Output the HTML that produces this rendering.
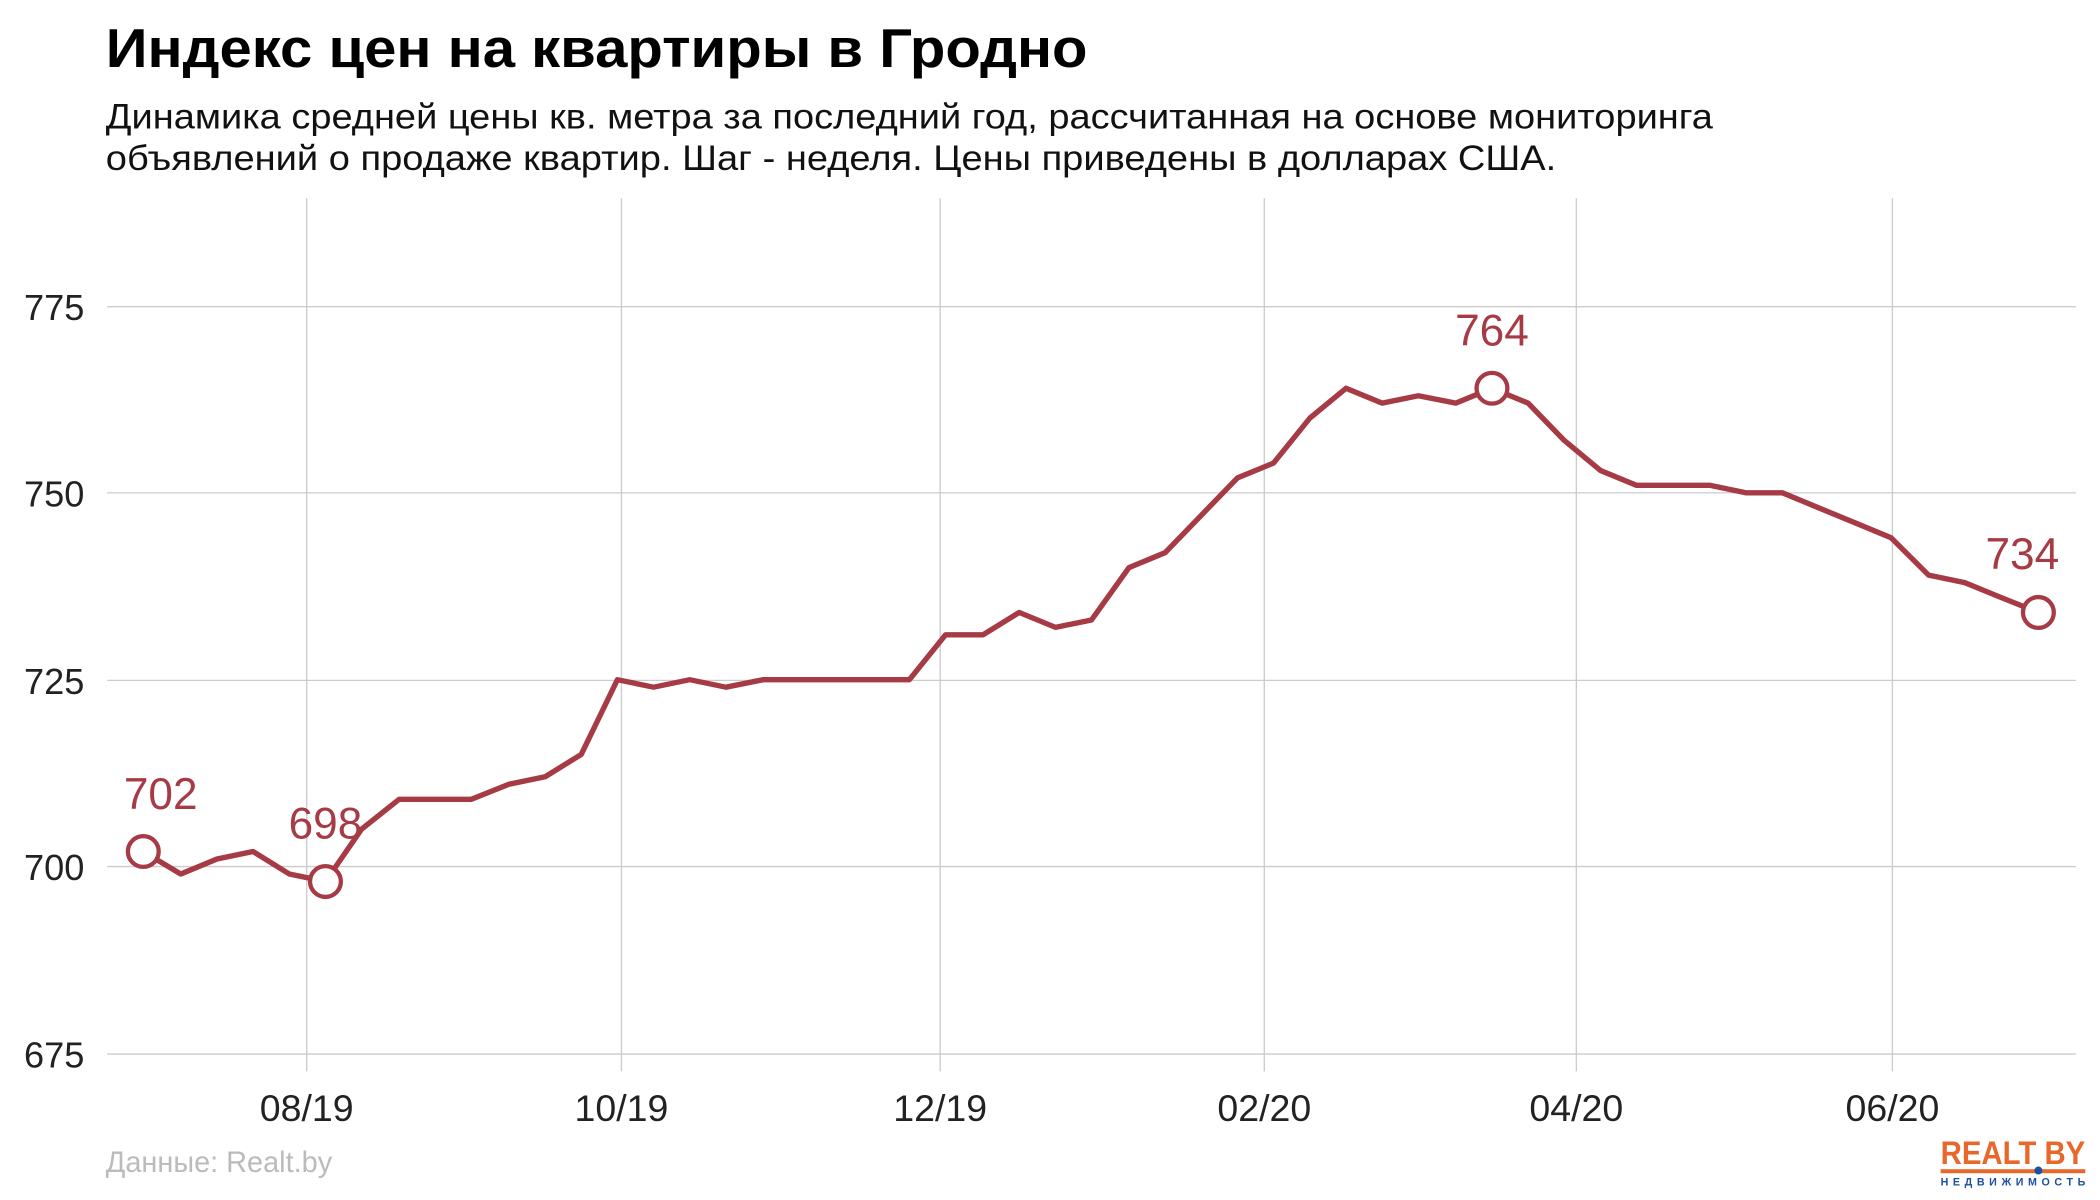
<!DOCTYPE html>
<html><head><meta charset="utf-8"><style>
html,body{margin:0;padding:0;background:#fff;}
svg{display:block;}
text{font-family:"Liberation Sans",sans-serif;}
</style></head><body>
<svg width="2100" height="1200" viewBox="0 0 1568 896" preserveAspectRatio="none" xmlns="http://www.w3.org/2000/svg">
<rect width="1568" height="896" fill="#fff"/>
<text x="79" y="50" font-size="41" font-weight="bold" fill="#000" textLength="733" lengthAdjust="spacingAndGlyphs">Индекс цен на квартиры в Гродно</text>
<text x="79" y="96" font-size="26" fill="#111" textLength="1200" lengthAdjust="spacingAndGlyphs">Динамика средней цены кв. метра за последний год, рассчитанная на основе мониторинга</text>
<text x="79" y="127" font-size="26" fill="#111" textLength="1083" lengthAdjust="spacingAndGlyphs">объявлений о продаже квартир. Шаг - неделя. Цены приведены в долларах США.</text>
<g stroke="#cccccc" stroke-width="1">
<line x1="80" x2="1550" y1="229" y2="229"/>
<line x1="80" x2="1550" y1="368" y2="368"/>
<line x1="80" x2="1550" y1="508" y2="508"/>
<line x1="80" x2="1550" y1="647" y2="647"/>
<line x1="80" x2="1550" y1="787" y2="787"/>
<line x1="229" x2="229" y1="148" y2="800"/>
<line x1="464" x2="464" y1="148" y2="800"/>
<line x1="702" x2="702" y1="148" y2="800"/>
<line x1="944" x2="944" y1="148" y2="800"/>
<line x1="1177" x2="1177" y1="148" y2="800"/>
<line x1="1413" x2="1413" y1="148" y2="800"/>
</g>
<g font-size="27" fill="#222" text-anchor="end">
<text x="63" y="239">775</text>
<text x="63" y="378">750</text>
<text x="63" y="518">725</text>
<text x="63" y="657">700</text>
<text x="63" y="797">675</text>
</g>
<g font-size="28" fill="#222" text-anchor="middle">
<text x="229" y="837">08/19</text>
<text x="464" y="837">10/19</text>
<text x="702" y="837">12/19</text>
<text x="944" y="837">02/20</text>
<text x="1177" y="837">04/20</text>
<text x="1413" y="837">06/20</text>
</g>
<polyline fill="none" stroke="#a63a45" stroke-width="4" stroke-linejoin="round" points="107,635.8 135,652.6 162,641.4 189,635.8 216,652.6 243,658.2 270,619.1 298,596.8 325,596.8 352,596.8 380,585.6 407,580 434,563.3 461,507.5 488,513.1 515,507.5 542,513.1 570,507.5 597,507.5 624,507.5 652,507.5 679,507.5 706,474 734,474 761,457.3 788,468.4 815,462.9 843,423.8 870,412.6 897,384.7 924,356.8 951,345.7 978,312.2 1005,289.9 1032,301 1059,295.5 1087,301 1114,289.9 1141,301 1168,328.9 1195,351.3 1222,362.4 1250,362.4 1277,362.4 1304,368 1331,368 1358,379.2 1385,390.3 1412,401.5 1440,429.4 1467,435 1494,446.1 1522,457.3"/>
<g fill="#fff" stroke="#a63a45" stroke-width="3.2">
<circle cx="107" cy="635.8" r="11.5"/>
<circle cx="243" cy="658.2" r="11.5"/>
<circle cx="1114" cy="289.9" r="11.5"/>
<circle cx="1522" cy="457.3" r="11.5"/>
</g>
<g font-size="33" fill="#a63a45" text-anchor="middle">
<text x="120" y="604">702</text>
<text x="243" y="626">698</text>
<text x="1114" y="258">764</text>
<text x="1510" y="425">734</text>
</g>
<text x="79" y="875" font-size="22" fill="#bbbbbb" textLength="169" lengthAdjust="spacingAndGlyphs">Данные: Realt.by</text>
<text x="1503" y="869" font-size="24" font-weight="bold" fill="#e8672a" text-anchor="middle" textLength="108" lengthAdjust="spacingAndGlyphs">REALT BY</text>
<rect x="1449" y="873" width="108" height="3" fill="#e8672a"/>
<circle cx="1522" cy="874" r="3" fill="#1e4fa0"/>
<text x="1503" y="885" font-size="8" font-weight="bold" fill="#1e4fa0" text-anchor="middle" textLength="108" lengthAdjust="spacing">НЕДВИЖИМОСТЬ</text>
</svg>
</body></html>
